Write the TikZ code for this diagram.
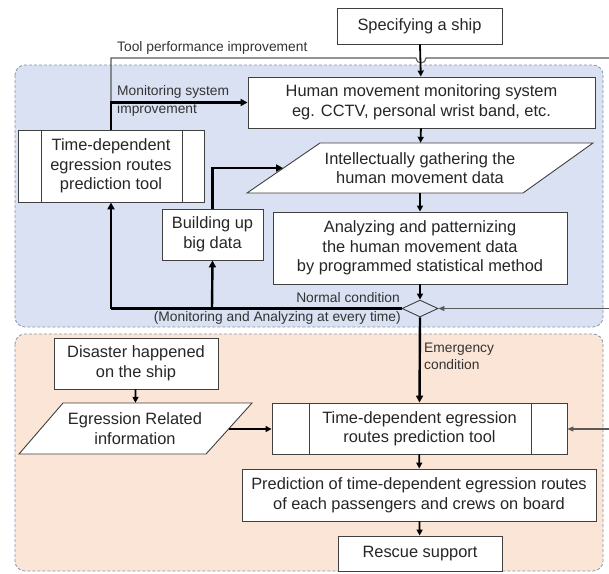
\documentclass[tikz,border=0pt]{standalone}
\usepackage{fontspec}
\setmainfont{Liberation Sans}
\usetikzlibrary{shapes.geometric,arrows.meta}
\definecolor{bluebg}{HTML}{D9E1F2}
\definecolor{orgbg}{HTML}{FBE5D6}
\definecolor{regionc}{HTML}{8497B0}
\definecolor{boxc}{HTML}{404040}
\definecolor{thinc}{HTML}{595959}
\newcommand{\boxfont}{\fontsize{16.4}{19.5}\selectfont}
\newcommand{\labfont}{\fontsize{13.8}{17}\selectfont}
\tikzset{
  region/.style={draw=regionc, line width=0.8pt, dash pattern=on 3pt off 2pt, rounded corners=10pt},
  box/.style={draw=boxc, fill=white, line width=0.9pt, align=center, inner sep=0pt, font=\boxfont, text=black!85},
  plainbox/.style={align=center, inner sep=0pt, font=\boxfont, text=black!85},
  lab/.style={font=\labfont, text=black!80, inner sep=0pt},
  thick arrow/.style={draw=black, line width=2.4pt, -{Triangle[length=7pt,width=7pt]}},
  thickline/.style={draw=black, line width=2.4pt},
  mid arrow/.style={draw=black, line width=1.8pt, -{Triangle[length=6pt,width=6pt]}},
  thin arrow/.style={draw=thinc, line width=1.1pt, -{Triangle[length=6pt,width=5pt]}},
  thinline/.style={draw=thinc, line width=1.1pt},
  boxline/.style={draw=boxc, line width=0.9pt}
}
\begin{document}
\begin{tikzpicture}[x=1pt,y=-1pt]
\useasboundingbox (0,0) rectangle (609,573);
% regions
\path[region, fill=bluebg] (15,65) rectangle (603,327);
\path[region, fill=orgbg] (15,334) rectangle (603,571);

% nodes
\node[box, minimum width=165pt, minimum height=36pt] (ship) at (419.5,26) {Specifying a ship};
\node[box, minimum width=347pt, minimum height=51pt] (human) at (421.5,102.5) {Human movement monitoring system\\eg. CCTV, personal wrist band, etc.};
\node[box, minimum width=186pt, minimum height=72pt] (tool1) at (111,166) {Time-dependent\\egression routes\\prediction tool};
\draw[boxline] ([xshift=24pt]tool1.north west) -- ([xshift=24pt]tool1.south west);
\draw[boxline] ([xshift=-22pt]tool1.north east) -- ([xshift=-22pt]tool1.south east);

\draw[boxline, fill=white] (320,143) -- (593,143) -- (523,193) -- (247,193) -- cycle;
\node[plainbox, minimum height=50pt] (gather) at (420,168) {Intellectually gathering the\\human movement data};
\coordinate (gatherL) at (283,168);

\node[box, minimum width=101pt, minimum height=51pt] (build) at (212.5,234.5) {Building up\\big data};
\node[box, minimum width=294pt, minimum height=72pt] (analyze) at (420,248) {Analyzing and patternizing\\the human movement data\\by programmed statistical method};
\node[diamond, draw=boxc, line width=0.9pt, minimum width=36pt, minimum height=17pt, inner sep=0pt] (dia) at (420,308.5) {};

\node[box, minimum width=164pt, minimum height=51pt] (disaster) at (136,363.5) {Disaster happened\\on the ship};
\draw[boxline, fill=white] (63,403) -- (252,403) -- (206,454) -- (19,454) -- cycle;
\node[plainbox, minimum height=51pt] (egress) at (135,428.5) {Egression Related\\information};
\coordinate (egressR) at (229,429);

\node[box, minimum width=295pt, minimum height=51pt] (tool2) at (419.5,428.5) {Time-dependent egression\\routes prediction tool};
\draw[boxline] ([xshift=38pt]tool2.north west) -- ([xshift=38pt]tool2.south west);
\draw[boxline] ([xshift=-36pt]tool2.north east) -- ([xshift=-36pt]tool2.south east);

\node[box, minimum width=354pt, minimum height=52pt] (predict) at (419,495) {Prediction of time-dependent egression routes\\of each passengers and crews on board};
\node[box, minimum width=164pt, minimum height=35pt] (rescue) at (420,553.5) {Rescue support};

% labels
\node[lab, anchor=west] (ltool) at (117,48) {Tool performance improvement};
\node[lab, anchor=west] (lmon1) at (117,92) {Monitoring system};
\node[lab, anchor=west] (lmon2) at (117,110) {improvement};
\node[lab, anchor=east] (lnorm) at (400,298) {Normal condition};
\node[lab, anchor=east] (levery) at (401,318) {(Monitoring and Analyzing at every time)};
\node[lab, anchor=west, align=left] (lemer) at (424,356) {Emergency\\condition};

% coordinates
\coordinate (tl) at (111,102);
\coordinate (ttop) at (111,58);
\coordinate (rtop) at (609,58);
\coordinate (rdia) at (609,308.5);
\coordinate (rtool) at (609,429);
\coordinate (nl) at (111,308.5);
\coordinate (nb) at (212,308.5);

% connectors
\draw[thinline] (tl) -- (ttop) -- (416,58) arc[start angle=180, end angle=0, radius=5] -- (rtop);
\draw[mid arrow] (ship) -- (human);
\draw[mid arrow] (human) -- (gather);
\draw[mid arrow] (gather) -- (analyze);
\draw[mid arrow] (analyze) -- (dia);
\draw[thick arrow] (tool1.north) |- (human.west);
\draw[thickline] (dia.west) -- (nl);
\draw[thick arrow] (nl) -- (tool1.south);
\draw[thick arrow] (nb) -- (build.south);
\draw[thick arrow] (build.north) |- (gatherL);
\draw[thin arrow] (rdia) -- (dia.east);
\draw[thick arrow] (dia.south) -- (tool2.north);
\draw[mid arrow] (disaster) -- (egress);
\draw[mid arrow] (egressR) -- (tool2.west |- egressR);
\draw[thin arrow] (rtool) -- (tool2.east |- rtool);
\draw[mid arrow] (tool2) -- (predict);
\draw[mid arrow] (predict) -- (rescue);
\end{tikzpicture}
\end{document}
